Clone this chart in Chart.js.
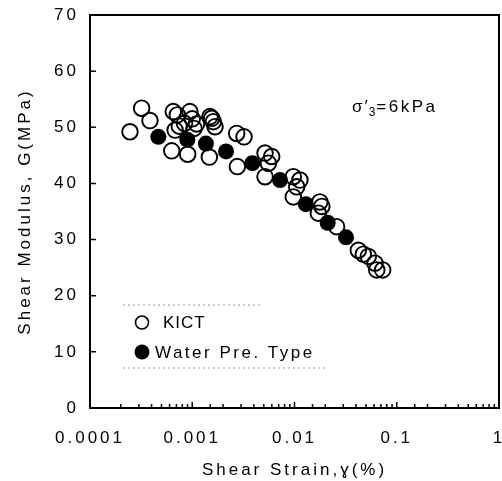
<!DOCTYPE html>
<html>
<head>
<meta charset="utf-8">
<script src="https://cdn.jsdelivr.net/npm/chart.js@4.4.1/dist/chart.umd.min.js"></script>
<style>
  html, body { margin: 0; padding: 0; background: #fff; overflow: hidden; }
  #wrap { width: 502px; height: 481px; }
  canvas { display: block; }
</style>
</head>
<body>
<div id="wrap"><canvas id="chart" width="502" height="481"></canvas></div>
<script>
// shear strain (%) vs shear modulus G (MPa)
const kictStrain = [0.000246, 0.000320, 0.000386, 0.000630, 0.000652, 0.000714, 0.000680, 0.000747,
  0.000902, 0.000948, 0.00100, 0.00104, 0.00110, 0.00084, 0.00149, 0.00155, 0.00161, 0.00167, 0.00147,
  0.00272, 0.00321, 0.00276, 0.00515, 0.00598, 0.00555, 0.00515, 0.00973, 0.0113, 0.0105, 0.00973,
  0.0177, 0.0185, 0.0171, 0.0258, 0.0421, 0.0471, 0.0527, 0.0613, 0.0637, 0.0728];
const kictG = [49.2, 53.4, 51.2, 45.8, 52.8, 52.2, 49.5, 50.2,
  45.2, 52.8, 51.5, 49.8, 50.6, 50.7, 51.9, 51.6, 51.0, 50.1, 44.7,
  48.9, 48.3, 43.0, 45.4, 44.8, 43.6, 41.2, 41.2, 40.6, 39.4, 37.6,
  36.7, 35.9, 34.7, 32.3, 28.1, 27.4, 27.0, 25.8, 24.6, 24.6];
const waterStrain = [0.000466, 0.000895, 0.00136, 0.00214, 0.00387, 0.00721, 0.0129, 0.0211, 0.0319];
const waterG = [48.3, 47.8, 47.1, 45.7, 43.6, 40.6, 36.3, 33.0, 30.4];
const yTicks = [0, 10, 20, 30, 40, 50, 60, 70];
const xDecades = [0.0001, 0.001, 0.01, 0.1, 1];

const fam = '"Liberation Sans", Arial, sans-serif';

function pts(xs, ys) {
  return xs.map((x, i) => ({ x: x, y: ys[i] }));
}

const framePlugin = {
  id: 'frame',
  beforeUpdate(chart) {
    chart.ctx.letterSpacing = '3px';
  },
  beforeDraw(chart) {
    chart.ctx.letterSpacing = '3px';
  },
  afterDraw(chart) {
    const ctx = chart.ctx;
    const a = chart.chartArea;
    const xs = chart.scales.x, ys = chart.scales.y;
    ctx.save();
    ctx.strokeStyle = '#000';
    // inward ticks
    ctx.lineWidth = 1.5;
    ctx.beginPath();
    xs.ticks.forEach(t => {
      const px = xs.getPixelForValue(t.value);
      const major = xDecades.includes(t.value);
      ctx.moveTo(px, a.bottom);
      ctx.lineTo(px, a.bottom - (major ? 6 : 4));
    });
    yTicks.forEach(v => {
      const py = ys.getPixelForValue(v);
      ctx.moveTo(a.left, py);
      ctx.lineTo(a.left + 6, py);
    });
    ctx.stroke();
    // box
    ctx.lineWidth = 2;
    ctx.strokeRect(a.left, a.top, a.right - a.left, a.bottom - a.top);

    // legend
    ctx.setLineDash([2, 3]);
    ctx.strokeStyle = '#999';
    ctx.lineWidth = 1;
    ctx.beginPath();
    ctx.moveTo(123, 305); ctx.lineTo(262, 305);
    ctx.moveTo(123, 368); ctx.lineTo(327, 368);
    ctx.stroke();
    ctx.setLineDash([]);
    ctx.strokeStyle = '#000';
    ctx.lineWidth = 1.6;
    ctx.beginPath();
    ctx.arc(142, 322.5, 6.5, 0, Math.PI * 2);
    ctx.stroke();
    ctx.fillStyle = '#000';
    ctx.beginPath();
    ctx.arc(142, 352, 7.5, 0, Math.PI * 2);
    ctx.fill();
    ctx.font = '17px ' + fam;
    ctx.textBaseline = 'middle';
    ctx.textAlign = 'left';
    ctx.letterSpacing = '1px';
    ctx.fillText('KICT', 163, 323);
    ctx.letterSpacing = '2.5px';
    ctx.fillText('Water Pre. Type', 155, 353);

    // confining stress note
    ctx.letterSpacing = '2px';
    ctx.font = '17px ' + fam;
    ctx.textBaseline = 'alphabetic';
    ctx.fillText('σ′', 352, 112);
    let w = ctx.measureText('σ′').width;
    ctx.font = '12px ' + fam;
    ctx.letterSpacing = '0px';
    ctx.fillText('3', 352 + w - 1, 116);
    const w3 = ctx.measureText('3').width;
    ctx.font = '17px ' + fam;
    ctx.letterSpacing = '2.5px';
    ctx.fillText('=6kPa', 352 + w + w3, 112);
    ctx.restore();
  }
};

new Chart(document.getElementById('chart'), {
  type: 'scatter',
  data: {
    datasets: [{
      label: 'KICT',
      data: pts(kictStrain, kictG),
      pointStyle: 'circle',
      pointRadius: 7.8,
      borderWidth: 1.9,
      borderColor: '#000',
      backgroundColor: 'rgba(0,0,0,0)'
    }, {
      label: 'Water Pre. Type',
      data: pts(waterStrain, waterG),
      pointStyle: 'circle',
      pointRadius: 8,
      borderWidth: 0,
      borderColor: '#000',
      backgroundColor: '#000'
    }]
  },
  options: {
    responsive: false,
    animation: false,
    events: [],
    layout: { autoPadding: false, padding: { top: 15, right: 3, left: 0, bottom: 0 } },
    plugins: { legend: { display: false }, tooltip: { enabled: false } },
    scales: {
      x: {
        type: 'logarithmic',
        min: 0.0001,
        max: 1,
        afterFit(s) { s.height = 73; s.paddingLeft = 0; s.paddingRight = 0; },
        grid: { display: false, drawTicks: false },
        border: { display: false },
        ticks: {
          autoSkip: false,
          maxRotation: 0,
          padding: 20,
          color: '#000',
          font: { family: fam, size: 17 },
          callback(v) { return xDecades.includes(v) ? String(v) : ''; }
        },
        title: {
          display: true,
          text: 'Shear Strain,\u0263(%)',
          color: '#000',
          font: { family: fam, size: 17 },
          padding: { top: 0, bottom: 0 }
        }
      },
      y: {
        min: 0,
        max: 70,
        afterFit(s) { s.width = 90; s.paddingTop = 0; s.paddingBottom = 0; },
        afterBuildTicks(s) { s.ticks = yTicks.map(v => ({ value: v })); },
        grid: { display: false, drawTicks: false },
        border: { display: false },
        ticks: {
          padding: 11,
          color: '#000',
          font: { family: fam, size: 17 }
        },
        title: {
          display: true,
          text: 'Shear Modulus, G(MPa)',
          color: '#000',
          font: { family: fam, size: 17 },
          padding: { top: 15, bottom: 0 }
        }
      }
    }
  },
  plugins: [framePlugin]
});
</script>
</body>
</html>
